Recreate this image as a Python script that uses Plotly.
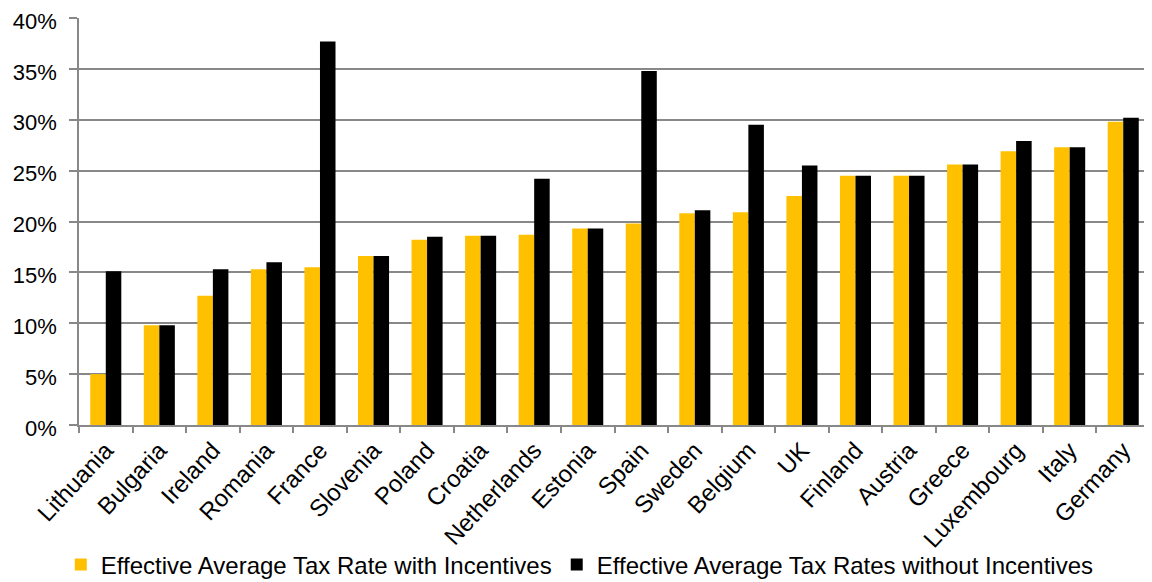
import plotly.graph_objects as go

countries = ["Lithuania", "Bulgaria", "Ireland", "Romania", "France", "Slovenia", "Poland",
             "Croatia", "Netherlands", "Estonia", "Spain", "Sweden", "Belgium", "UK",
             "Finland", "Austria", "Greece", "Luxembourg", "Italy", "Germany"]
with_incentives = [5.0, 9.8, 12.7, 15.3, 15.5, 16.6, 18.2, 18.6, 18.7, 19.3, 19.8, 20.8,
                   20.9, 22.5, 24.5, 24.5, 25.6, 26.9, 27.3, 29.8]
without_incentives = [15.1, 9.8, 15.3, 16.0, 37.7, 16.6, 18.5, 18.6, 24.2, 19.3, 34.8, 21.1,
                      29.5, 25.5, 24.5, 24.5, 25.6, 27.9, 27.3, 30.2]
y_ticks = [0, 5, 10, 15, 20, 25, 30, 35, 40]
y_labels = [f"{v}%" for v in y_ticks]

fig = go.Figure()
fig.add_trace(go.Bar(x=countries, y=with_incentives,
                     name="Effective Average Tax Rate with Incentives",
                     marker=dict(color="#FFC000", line=dict(width=0))))
fig.add_trace(go.Bar(x=countries, y=without_incentives,
                     name="Effective Average Tax Rates without Incentives",
                     marker=dict(color="#000000", line=dict(width=0))))

# page body has an 8px default margin, so the figure is sized to fit the window
fig.update_layout(
    width=1144, height=574,
    margin=dict(l=71, r=2, t=10, b=157, autoexpand=False),
    paper_bgcolor="white", plot_bgcolor="white",
    barmode="group", bargap=0.42, bargroupgap=0,
    font=dict(family="Liberation Sans, Arial, sans-serif", size=24, color="black"),
    showlegend=True,
    legend=dict(orientation="h", x=-0.017, xanchor="left", y=-0.344, yanchor="middle",
                font=dict(size=24), itemwidth=30, traceorder="normal",
                bgcolor="rgba(0,0,0,0)"),
)
fig.update_xaxes(showline=True, linecolor="#888888", linewidth=1.5,
                 ticks="outside", tickson="boundaries", ticklen=6, tickcolor="#888888",
                 tickwidth=1.5, tickangle=-47, tickfont=dict(size=24),
                 showgrid=False, automargin=False)
fig.update_yaxes(range=[0, 40], tickvals=y_ticks, ticktext=y_labels,
                 showgrid=True, gridcolor="#888888", gridwidth=1.5,
                 showline=True, linecolor="#888888", linewidth=1.5,
                 ticks="outside", ticklen=8, tickcolor="#888888", tickwidth=1.5,
                 tickfont=dict(size=22), ticklabelstandoff=8, ticklabelshift=3,
                 ticklabeloverflow="allow", zeroline=False, automargin=False)

fig.write_html("out.html")
